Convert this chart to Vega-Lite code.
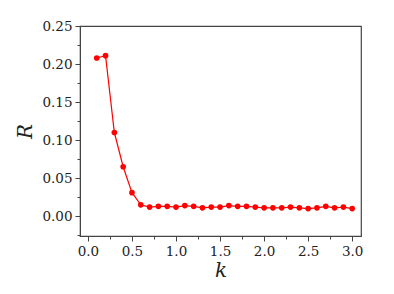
{
  "$schema": "https://vega.github.io/schema/vega-lite/v6.json",
  "autosize": "none",
  "width": 281,
  "height": 210,
  "padding": {"left": 80, "top": 26, "right": 33, "bottom": 58},
  "background": "white",
  "config": {
    "view": {"stroke": "#444", "strokeWidth": 1.2},
    "font": "DejaVu Serif",
    "axis": {
      "labelFont": "DejaVu Serif",
      "titleFont": "DejaVu Serif",
      "labelFontSize": 13.5,
      "labelColor": "#222",
      "domainColor": "#444",
      "tickColor": "#444",
      "grid": false
    }
  },
  "data": {
    "values": [
      {"k": 0.1, "R": 0.208}, {"k": 0.2, "R": 0.211}, {"k": 0.3, "R": 0.110},
      {"k": 0.4, "R": 0.065}, {"k": 0.5, "R": 0.031}, {"k": 0.6, "R": 0.015},
      {"k": 0.7, "R": 0.012}, {"k": 0.8, "R": 0.013}, {"k": 0.9, "R": 0.013},
      {"k": 1.0, "R": 0.012}, {"k": 1.1, "R": 0.014}, {"k": 1.2, "R": 0.013},
      {"k": 1.3, "R": 0.011}, {"k": 1.4, "R": 0.012}, {"k": 1.5, "R": 0.012},
      {"k": 1.6, "R": 0.014}, {"k": 1.7, "R": 0.013}, {"k": 1.8, "R": 0.013},
      {"k": 1.9, "R": 0.012}, {"k": 2.0, "R": 0.011}, {"k": 2.1, "R": 0.011},
      {"k": 2.2, "R": 0.011}, {"k": 2.3, "R": 0.012}, {"k": 2.4, "R": 0.011},
      {"k": 2.5, "R": 0.010}, {"k": 2.6, "R": 0.011}, {"k": 2.7, "R": 0.013},
      {"k": 2.8, "R": 0.011}, {"k": 2.9, "R": 0.012}, {"k": 3.0, "R": 0.010}
    ]
  },
  "encoding": {
    "x": {
      "field": "k", "type": "quantitative",
      "scale": {"domain": [-0.09, 3.1], "nice": false, "zero": false}
    },
    "y": {
      "field": "R", "type": "quantitative",
      "scale": {"domain": [-0.026, 0.25], "nice": false, "zero": false}
    }
  },
  "layer": [
    {
      "mark": {"type": "line", "color": "#ff0000", "strokeWidth": 1.2},
      "encoding": {
        "x": {"field": "k", "type": "quantitative",
          "axis": {"values": [0, 0.5, 1, 1.5, 2, 2.5, 3], "format": ".1f", "tickSize": 5, "labelPadding": 3,
            "title": "k", "titleFontStyle": "italic", "titleFontWeight": "normal", "titleFontSize": 20, "titlePadding": 3, "titleColor": "#222"}},
        "y": {"field": "R", "type": "quantitative",
          "axis": {"values": [0, 0.05, 0.1, 0.15, 0.2, 0.25], "format": ".2f", "tickSize": 5, "labelPadding": 3,
            "title": "R", "titleFontStyle": "italic", "titleFontWeight": "normal", "titleFontSize": 20, "titlePadding": 6, "titleColor": "#222", "titleAngle": -90}}
      }
    },
    {
      "mark": {"type": "point", "filled": true, "color": "#ff0000", "size": 32, "opacity": 1},
      "encoding": {
        "x": {"field": "k", "type": "quantitative", "axis": null},
        "y": {"field": "R", "type": "quantitative", "axis": null}
      }
    },
    {
      "mark": {"type": "point", "opacity": 0},
      "encoding": {
        "x": {"field": "k", "type": "quantitative",
          "axis": {"orient": "bottom", "values": [0.25, 0.75, 1.25, 1.75, 2.25, 2.75], "labels": false, "domain": false, "tickSize": 3, "title": null}},
        "y": {"field": "R", "type": "quantitative",
          "axis": {"orient": "left", "values": [-0.025, 0.025, 0.075, 0.125, 0.175, 0.225], "labels": false, "domain": false, "tickSize": 3, "title": null}}
      }
    }
  ],
  "resolve": {"axis": {"x": "independent", "y": "independent"}}
}
